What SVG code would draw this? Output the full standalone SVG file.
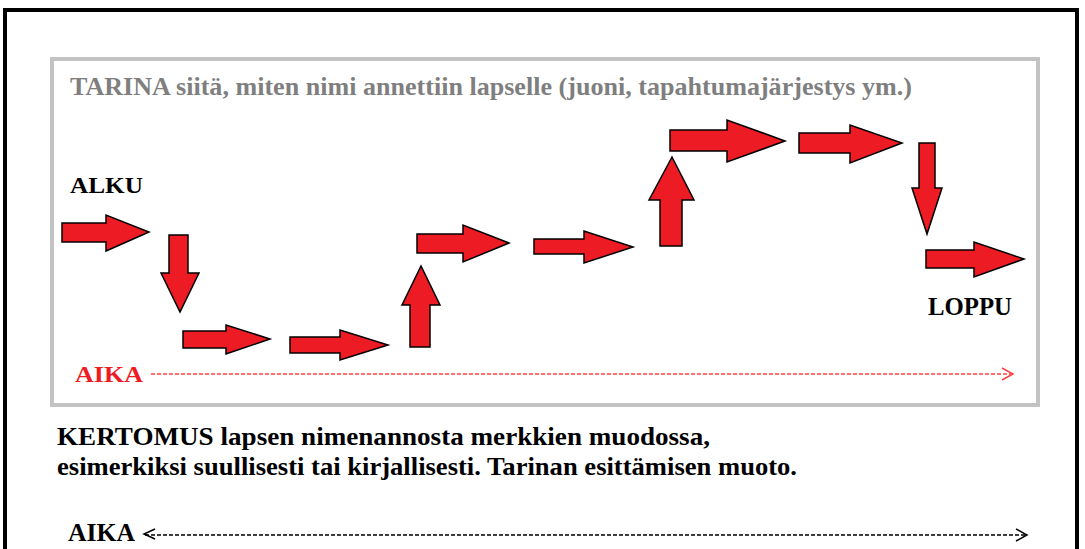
<svg xmlns="http://www.w3.org/2000/svg" width="1085" height="549" viewBox="0 0 1085 549">
<style>
.t{font-family:"Liberation Serif","Times New Roman",serif;font-weight:bold;}
.arr{fill:#ED1C24;stroke:#000;stroke-width:1.5;stroke-linejoin:miter;}
</style>
<rect x="0" y="0" width="1085" height="549" fill="#fff"/>
<rect id="frame" x="5" y="10" width="1072" height="560" fill="none" stroke="#000" stroke-width="4"/>
<rect id="tarina-box" x="52" y="59" width="986" height="346" fill="none" stroke="#c3c3c3" stroke-width="4"/>
<g id="title"><text class="t" x="70" y="95" font-size="26" fill="#7f7f7f" textLength="842" lengthAdjust="spacingAndGlyphs">TARINA siitä, miten nimi annettiin lapselle (juoni, tapahtumajärjestys ym.)</text></g>
<g id="alku"><text class="t" x="70" y="193" font-size="24" fill="#000" textLength="73" lengthAdjust="spacingAndGlyphs">ALKU</text></g>
<g id="loppu"><text class="t" x="928" y="315" font-size="25" fill="#000" textLength="84" lengthAdjust="spacingAndGlyphs">LOPPU</text></g>
<g id="arrows">
<polygon id="a1" class="arr" points="62,223 106,223 106,215 149,232 106,251 106,242 62,242"/>
<polygon id="a2" class="arr" points="169,235 188,235 188,273 199,273 180,312 161,273 169,273"/>
<polygon id="a3" class="arr" points="183,331 226,331 226,325 270,339 226,354 226,348 183,348"/>
<polygon id="a4" class="arr" points="290,337 340,337 340,330 388,345 340,360 340,353 290,353"/>
<polygon id="a5" class="arr" points="410,347 430,347 430,305 440,305 421,266 402,305 410,305"/>
<polygon id="a6" class="arr" points="417,234 463,234 463,225 509,243 463,262 463,253 417,253"/>
<polygon id="a7" class="arr" points="534,239 584,239 584,231 633,247 584,263 584,254 534,254"/>
<polygon id="a8" class="arr" points="660,246 682,246 682,200 694,200 672,157 649,200 660,200"/>
<polygon id="a9" class="arr" points="670,130 727,130 727,120 785,141 727,162 727,151 670,151"/>
<polygon id="a10" class="arr" points="799,133 850,133 850,125 902,143 850,163 850,153 799,153"/>
<polygon id="a11" class="arr" points="919,143 935,143 935,188 942,188 927,234 912,188 919,188"/>
<polygon id="a12" class="arr" points="926,250 974,250 974,242 1024,259 974,277 974,268 926,268"/>
</g>
<g id="aika-red">
<text class="t" x="75" y="382" font-size="24" fill="#ED1C24" textLength="68" lengthAdjust="spacingAndGlyphs">AIKA</text>
<line x1="151" y1="374" x2="1011" y2="374" stroke="#ff4040" stroke-width="1.5" stroke-dasharray="4,2"/>
<polyline points="1002,368 1013,374 1002,380" fill="none" stroke="#ff4040" stroke-width="1.5"/>
</g>
<g id="kertomus">
<text class="t" x="57" y="445" font-size="25" fill="#000" textLength="653" lengthAdjust="spacingAndGlyphs">KERTOMUS lapsen nimenannosta merkkien muodossa,</text>
<text class="t" x="57" y="475" font-size="25" fill="#000" textLength="740" lengthAdjust="spacingAndGlyphs">esimerkiksi suullisesti tai kirjallisesti. Tarinan esittämisen muoto.</text>
</g>
<g id="aika-black">
<text class="t" x="68" y="541" font-size="25" fill="#000" textLength="67" lengthAdjust="spacingAndGlyphs">AIKA</text>
<polyline points="155,529 144,534 155,539" fill="none" stroke="#000" stroke-width="1.5"/>
<line x1="145" y1="535" x2="1027" y2="535" stroke="#000" stroke-width="1.5" stroke-dasharray="4,2"/>
<polyline points="1016,529 1027,535 1016,541" fill="none" stroke="#000" stroke-width="1.5"/>
</g>
</svg>
